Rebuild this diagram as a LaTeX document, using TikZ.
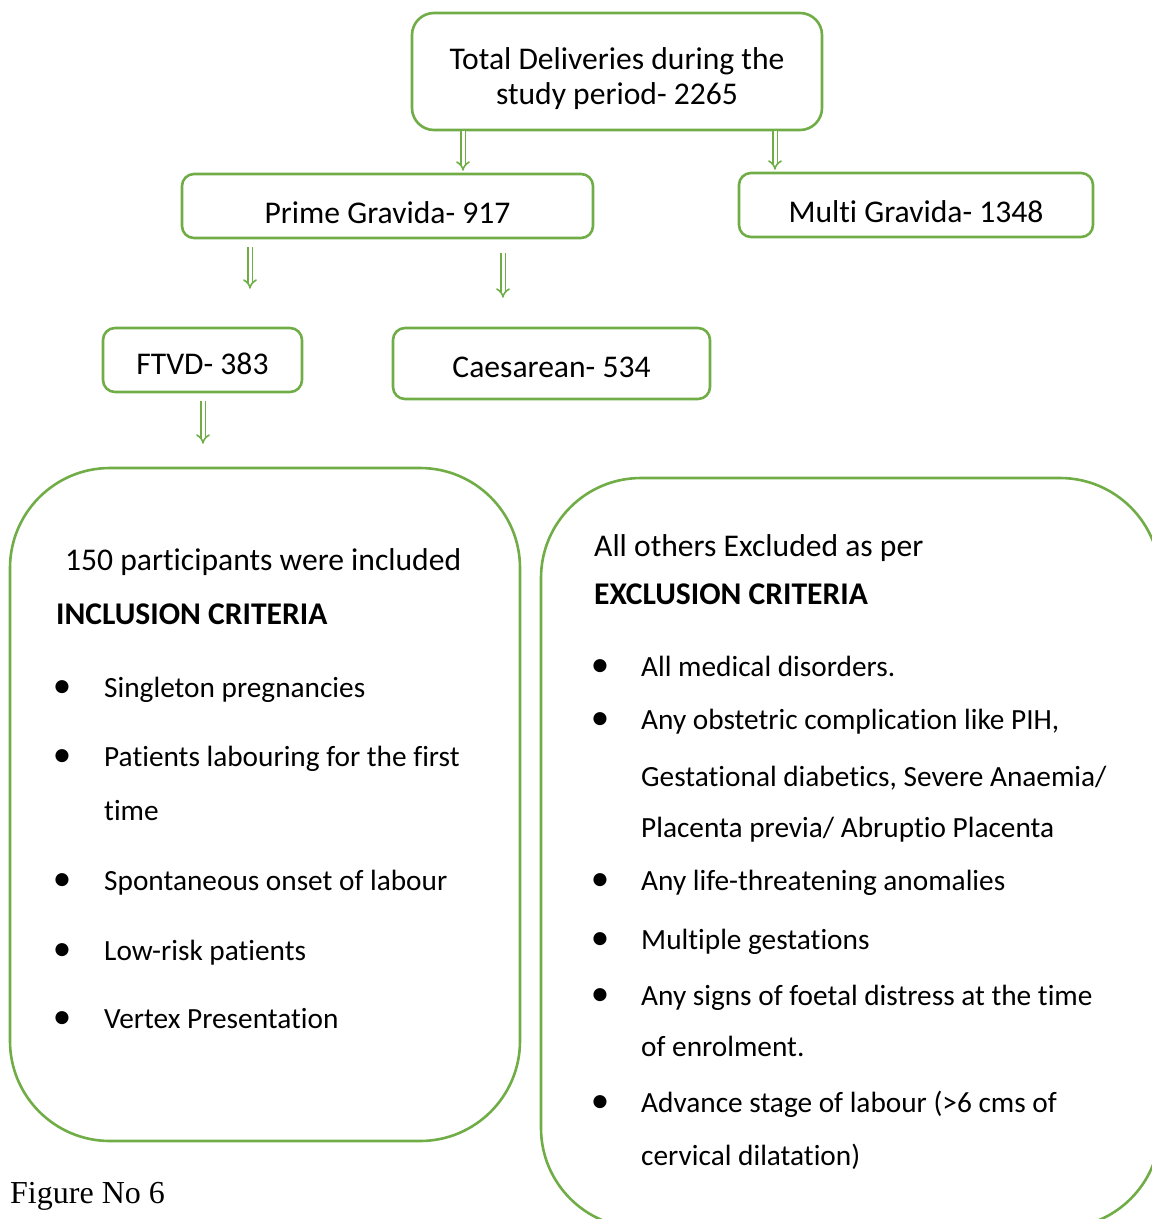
\documentclass[tikz,border=0pt]{standalone}
\usepackage{fontspec}
\setmainfont{Carlito}[Renderer=HarfBuzz,RawFeature={-liga;-clig;-calt;-rlig;-dlig;-hlig}]
\newfontfamily\timesfont{Liberation Serif}
\usetikzlibrary{arrows.meta,calc}
\definecolor{gr}{HTML}{70AD47}
\begin{document}
\begin{tikzpicture}[x=1pt,y=-1pt,
  box/.style={draw=gr, line width=2.6pt, rounded corners=#1, inner sep=0pt},
  box/.default=12pt,
  one/.style={font=\fontsize{31.6}{36}\selectfont, text height=36pt, text depth=2pt},
  arr/.style={draw=gr, double=white, line width=1.6pt, double distance=3pt, -{Implies}},
  head/.style={font=\fontsize{31.6}{36}\selectfont, anchor=base west, inner sep=0pt},
  item/.style={font=\fontsize{29.3}{34}\selectfont, anchor=base west, inner sep=0pt},
  dot/.style={font=\fontsize{37}{40}\selectfont, anchor=base, inner sep=0pt},
]
\useasboundingbox (0,0) rectangle (1152,1219);
\clip (0,0) rectangle (1152,1219);

% top row boxes
\node[box=22pt, minimum width=410pt, minimum height=117pt, align=center,
      text height=68pt, text depth=2pt,
      font=\fontsize{31.6}{35}\selectfont] (total) at (617,71.5)
      {Total Deliveries during the\\study period- 2265};
\node[box, one, minimum width=411pt, minimum height=64pt] (prime) at (387.5,206) {Prime Gravida- 917};
\node[box, one, minimum width=354pt, minimum height=64pt] (multi) at (916,205) {Multi Gravida- 1348};
\node[box, one, text height=30pt, minimum width=199pt, minimum height=64pt] (ftvd) at (202.5,360) {FTVD- 383};
\node[box, one, text height=29pt, minimum width=317pt, minimum height=71pt] (caes) at (551.5,363.5) {Caesarean- 534};

% big boxes
\node[box=100pt, minimum width=510pt, minimum height=673pt] (incl) at (265,804.5) {};
\node[box=100pt, minimum width=619pt, minimum height=750pt] (excl) at (850.5,853) {};

% arrows
\draw[arr] ([xshift=-154pt]total.south) -- ([xshift=75.5pt,yshift=2pt]prime.north);
\draw[arr] ([xshift=158pt]total.south) -- ([xshift=-141pt,yshift=2pt]multi.north);
\draw[arr] ([xshift=-137.5pt,yshift=-8pt]prime.south) -- ([xshift=47.5pt,yshift=38pt]ftvd.north);
\draw[arr] ([xshift=115.5pt,yshift=-14pt]prime.south) -- ([xshift=-48.5pt,yshift=29pt]caes.north);
\draw[arr] ([xshift=0.5pt,yshift=-8pt]ftvd.south) -- ([xshift=-62pt,yshift=23pt]incl.north);

% inclusion text
\node[head] (i0) at (65,570) {150 participants were included};
\node[head, font=\fontsize{31.6}{36}\selectfont\bfseries] (i1) at (56,624) {INCLUSION CRITERIA};
\node[dot] (b1) at (62,697) {•};
\node[item] (t1) at (104,697) {Singleton pregnancies};
\node[dot] (b2) at (62,766) {•};
\node[item] (t2) at (104,766) {Patients labouring for the first};
\node[item] (t2b) at (104,820) {time};
\node[dot] (b3) at (62,890) {•};
\node[item] (t3) at (104,890) {Spontaneous onset of labour};
\node[dot] (b4) at (62,960) {•};
\node[item] (t4) at (104,960) {Low-risk patients};
\node[dot] (b5) at (62,1028) {•};
\node[item] (t5) at (104,1028) {Vertex Presentation};

% exclusion text
\node[head] (e0) at (594,556) {All others Excluded as per};
\node[head, font=\fontsize{31.6}{36}\selectfont\bfseries] (e1) at (594,604) {EXCLUSION CRITERIA};
\node[dot] (c1) at (600,676) {•};
\node[item] (x1) at (641,676) {All medical disorders.};
\node[dot] (c2) at (600,729) {•};
\node[item] (x2) at (641,729) {Any obstetric complication like PIH,};
\node[item] (x2b) at (641,786) {Gestational diabetics, Severe Anaemia/};
\node[item] (x2c) at (641,837) {Placenta previa/ Abruptio Placenta};
\node[dot] (c3) at (600,890) {•};
\node[item] (x3) at (641,890) {Any life-threatening anomalies};
\node[dot] (c4) at (600,949) {•};
\node[item] (x4) at (641,949) {Multiple gestations};
\node[dot] (c5) at (600,1005) {•};
\node[item] (x5) at (641,1005) {Any signs of foetal distress at the time};
\node[item] (x5b) at (641,1056) {of enrolment.};
\node[dot] (c6) at (600,1112) {•};
\node[item] (x6) at (641,1112) {Advance stage of labour (>6 cms of};
\node[item] (x6b) at (641,1165) {cervical dilatation)};

% caption
\node[anchor=base west, inner sep=0pt, font=\timesfont\fontsize{32}{36}\selectfont] (cap) at (10,1203) {Figure No 6};
\end{tikzpicture}
\end{document}
